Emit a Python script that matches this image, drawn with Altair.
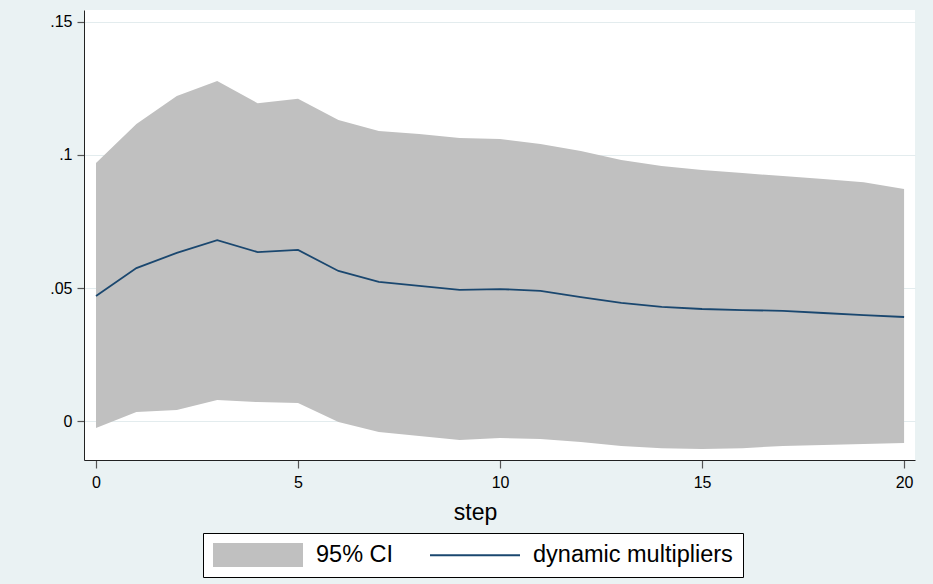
import altair as alt
import pandas as pd

# Impulse-response: dynamic multipliers with 95% confidence band
steps = list(range(21))
ci_upper = [0.0970, 0.1117, 0.1222, 0.1278, 0.1195, 0.1211, 0.1132, 0.1090, 0.1079,
            0.1064, 0.1060, 0.1041, 0.1015, 0.0981, 0.0959, 0.0944, 0.0932, 0.0921,
            0.0910, 0.0898, 0.0872]
ci_lower = [-0.0026, 0.0034, 0.0041, 0.0079, 0.0071, 0.0068, -0.0004, -0.0041, -0.0056,
            -0.0071, -0.0064, -0.0068, -0.0079, -0.0094, -0.0102, -0.0105, -0.0102,
            -0.0094, -0.0090, -0.0086, -0.0083]
multipliers = [0.0470, 0.0575, 0.0632, 0.0680, 0.0635, 0.0643, 0.0564, 0.0523, 0.0508,
               0.0493, 0.0496, 0.0489, 0.0466, 0.0444, 0.0429, 0.0421, 0.0417, 0.0414,
               0.0406, 0.0398, 0.0391]

x_ticks = [0, 5, 10, 15, 20]
y_ticks = [0, 0.05, 0.1, 0.15]
series_names = ["95% CI", "dynamic multipliers"]

BAND = "#c0c0c0"
NAVY = "#1a476f"
BG = "#eaf2f3"

df = pd.DataFrame({"step": steps, "lower": ci_lower, "upper": ci_upper, "irf": multipliers})

x_enc = alt.X(
    "step:Q",
    scale=alt.Scale(domain=[-0.297, 20.27], nice=False, zero=False),
    axis=alt.Axis(values=x_ticks, title="step", grid=False, titleX=391, titleY=59,
                  titleAlign="center", titleBaseline="alphabetic"),
)
y_scale = alt.Scale(domain=[-0.01466, 0.15451], nice=False, zero=False)
y_axis = alt.Axis(
    values=y_ticks, title=None, grid=True,
    labelExpr="datum.value == 0 ? '0' : slice(format(datum.value, '.2~f'), 1)",
)

# legend swatches: a wide filled box for the band, a thin bar for the line
swatch_paths = ["M-1,-1H6.5V1H-1Z", "M-1,-0.085H6.5V0.085H-1Z"]


def make_legend():
    return alt.Legend(
        title=None, orient="none", legendX=119, legendY=523, direction="horizontal",
        padding=10, strokeColor="#000000", fillColor="#ffffff",
        labelFontSize=23.5, labelFont="Liberation Sans", labelColor="#000000",
        labelLimit=0, symbolSize=576, symbolStrokeWidth=0, symbolOpacity=1,
        labelOffset=79, columnPadding=36,
    )


band = (
    alt.Chart(df)
    .mark_area(opacity=1, color=BAND)
    .encode(x=x_enc, y=alt.Y("lower:Q", scale=y_scale, axis=y_axis), y2="upper:Q")
)
line = (
    alt.Chart(df)
    .mark_line(color=NAVY, strokeWidth=1.8)
    .encode(x=x_enc, y=alt.Y("irf:Q", scale=y_scale, axis=y_axis))
)
# key layer: carries only the legend (no rows survive the filter)
key = (
    alt.Chart(df)
    .transform_filter("false")
    .transform_calculate(series="'95% CI'")
    .mark_point(filled=True, opacity=1)
    .encode(
        x=x_enc,
        y=alt.Y("irf:Q", scale=y_scale, axis=y_axis),
        color=alt.Color("series:N", scale=alt.Scale(domain=series_names, range=[BAND, NAVY]),
                        legend=make_legend()),
        shape=alt.Shape("series:N", scale=alt.Scale(domain=series_names, range=swatch_paths),
                        legend=make_legend()),
    )
)

chart = (
    alt.layer(band, line, key)
    .properties(width=831, height=450, background=BG,
                padding={"left": 84, "top": 10, "right": 18, "bottom": 124},
                autosize=alt.AutoSizeParams(type="none"))
    .configure(font="Liberation Sans")
    .configure_view(strokeWidth=0, fill="#ffffff")
    .configure_axis(
        domainColor="#222222", domainWidth=1, tickColor="#555555", tickWidth=1.2,
        tickSize=7, labelFontSize=16, labelColor="#000000", labelPadding=5,
        titleFontSize=23, titleColor="#000000", titleFontWeight="normal",
        gridColor="#e3ecee", gridWidth=1,
    )
    .configure_axisX(tickSize=8, labelPadding=6)
)

chart.save("out.html", embed_options={"renderer": "svg", "actions": False})
